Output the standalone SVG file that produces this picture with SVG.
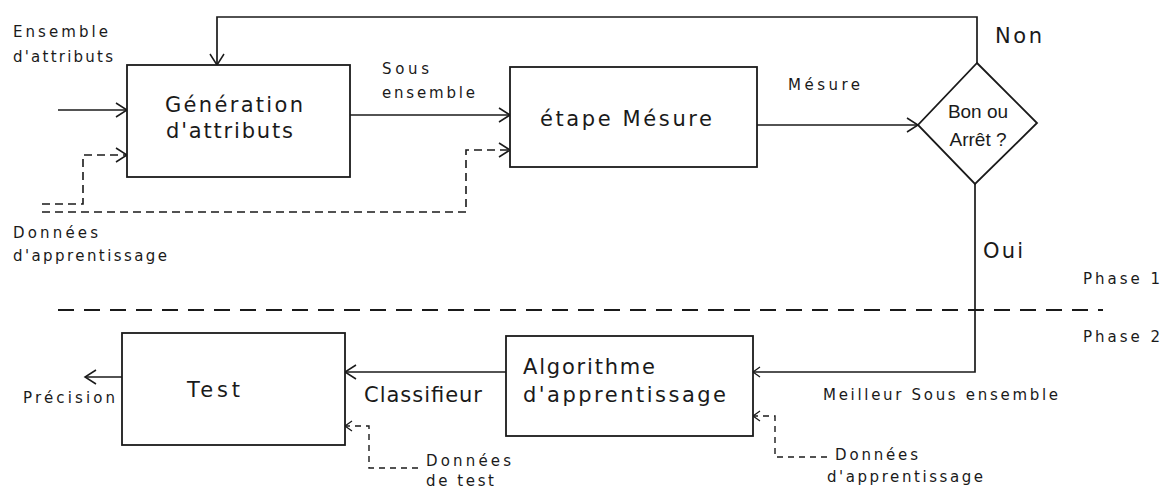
<svg xmlns="http://www.w3.org/2000/svg" width="1173" height="489" viewBox="0 0 1173 489">
<style>
.box{fill:#fff;stroke:#1a1a1a;stroke-width:1.8}
.ln{fill:none;stroke:#1a1a1a;stroke-width:1.7}
.ds{fill:none;stroke:#1a1a1a;stroke-width:1.6;stroke-dasharray:8 5}
.ds2{fill:none;stroke:#1a1a1a;stroke-width:1.4;stroke-dasharray:6 5}
.ph{fill:none;stroke:#1a1a1a;stroke-width:1.8;stroke-dasharray:16 10}
.s{font-family:"DejaVu Sans",sans-serif;font-size:15px;fill:#1a1a1a}
.b{font-family:"DejaVu Sans",sans-serif;font-size:21px;fill:#1a1a1a}
.a{font-family:"Liberation Sans",Arial,sans-serif;font-size:19px;fill:#1a1a1a}
</style>
<defs>
<marker id="arr" markerUnits="userSpaceOnUse" viewBox="-12 -8 14 16" markerWidth="14" markerHeight="16" refX="0" refY="0" orient="auto">
<path d="M-11,-7 L0,0 L-11,7" fill="none" stroke="#1a1a1a" stroke-width="1.5"/>
</marker>
<marker id="arrs" markerUnits="userSpaceOnUse" viewBox="-9 -6 11 12" markerWidth="11" markerHeight="12" refX="0" refY="0" orient="auto">
<path d="M-7,-5 L0,0 L-7,5" fill="none" stroke="#1a1a1a" stroke-width="1.3"/>
</marker>
</defs>
<rect width="1173" height="489" fill="#fff"/>

<g id="connectors">
<path class="ln" d="M977,63 V17 H217 V65" marker-end="url(#arr)"/>
<path class="ln" d="M58,110 H127" marker-end="url(#arr)"/>
<path class="ds" d="M42,204 H83 V155 H127" marker-end="url(#arr)"/>
<path class="ds" d="M42,212 H466 V150 H510" marker-end="url(#arr)"/>
<path class="ln" d="M350,115 H510" marker-end="url(#arr)"/>
<path class="ln" d="M757,125 H918" marker-end="url(#arr)"/>
<path class="ln" d="M975,184 V372 H753" marker-end="url(#arrs)"/>
<path class="ln" d="M506,372 H345" marker-end="url(#arr)"/>
<path class="ln" d="M122,377 H85" marker-end="url(#arr)"/>
<path class="ds2" d="M418,468 H369 V426 H345" marker-end="url(#arrs)"/>
<path class="ds2" d="M827,457 H775 V416 H753" marker-end="url(#arrs)"/>
</g>

<path id="phase-line" class="ph" d="M58,310 H1103"/>

<g id="node-generation">
<rect class="box" x="127" y="65" width="223" height="112"/>
<text class="b" x="165" y="112" textLength="138" lengthAdjust="spacing">Génération</text>
<text class="b" x="166" y="138" textLength="127" lengthAdjust="spacing">d'attributs</text>
</g>

<g id="node-mesure">
<rect class="box" x="510" y="67" width="247" height="100"/>
<text class="b" x="540" y="126" font-size="22" textLength="172" lengthAdjust="spacing">étape Mésure</text>
</g>

<g id="node-decision">
<path class="box" d="M977,63 L1037,123 L975,184 L918,125 Z"/>
<text class="a" x="978" y="118" text-anchor="middle">Bon ou</text>
<text class="a" x="978" y="146" text-anchor="middle">Arrêt ?</text>
</g>

<g id="node-algorithme">
<rect class="box" x="506" y="336" width="247" height="100"/>
<text class="b" x="523" y="374" font-size="22" textLength="132" lengthAdjust="spacing">Algorithme</text>
<text class="b" x="523" y="402" font-size="22" textLength="203" lengthAdjust="spacing">d'apprentissage</text>
</g>

<g id="node-test">
<rect class="box" x="122" y="333" width="223" height="112"/>
<text class="b" x="187" y="397" font-size="24" textLength="53" lengthAdjust="spacing">Test</text>
</g>

<g id="labels">
<text class="s" x="13" y="37" textLength="95" lengthAdjust="spacing">Ensemble</text>
<text class="s" x="13" y="62" textLength="100" lengthAdjust="spacing">d'attributs</text>
<text class="s" x="382" y="74" textLength="47" lengthAdjust="spacing">Sous</text>
<text class="s" x="382" y="98" textLength="93" lengthAdjust="spacing">ensemble</text>
<text class="s" x="788" y="90" textLength="72" lengthAdjust="spacing">Mésure</text>
<text class="b" x="995" y="43" textLength="47" lengthAdjust="spacing">Non</text>
<text class="b" x="983" y="258" textLength="40" lengthAdjust="spacing">Oui</text>
<text class="s" x="1083" y="284" textLength="77" lengthAdjust="spacing">Phase 1</text>
<text class="s" x="1083" y="342" textLength="77" lengthAdjust="spacing">Phase 2</text>
<text class="s" x="13" y="238" textLength="85" lengthAdjust="spacing">Données</text>
<text class="s" x="13" y="261" textLength="154" lengthAdjust="spacing">d'apprentissage</text>
<text class="b" x="364" y="402" font-size="20" textLength="118" lengthAdjust="spacing">Classifieur</text>
<text class="s" x="23" y="403" textLength="92" lengthAdjust="spacing">Précision</text>
<text class="s" x="823" y="400" textLength="235" lengthAdjust="spacing">Meilleur Sous ensemble</text>
<text class="s" x="426" y="466" textLength="85" lengthAdjust="spacing">Données</text>
<text class="s" x="426" y="486" textLength="68" lengthAdjust="spacing">de test</text>
<text class="s" x="835" y="460" textLength="83" lengthAdjust="spacing">Données</text>
<text class="s" x="827" y="482" textLength="156" lengthAdjust="spacing">d'apprentissage</text>
</g>
</svg>
